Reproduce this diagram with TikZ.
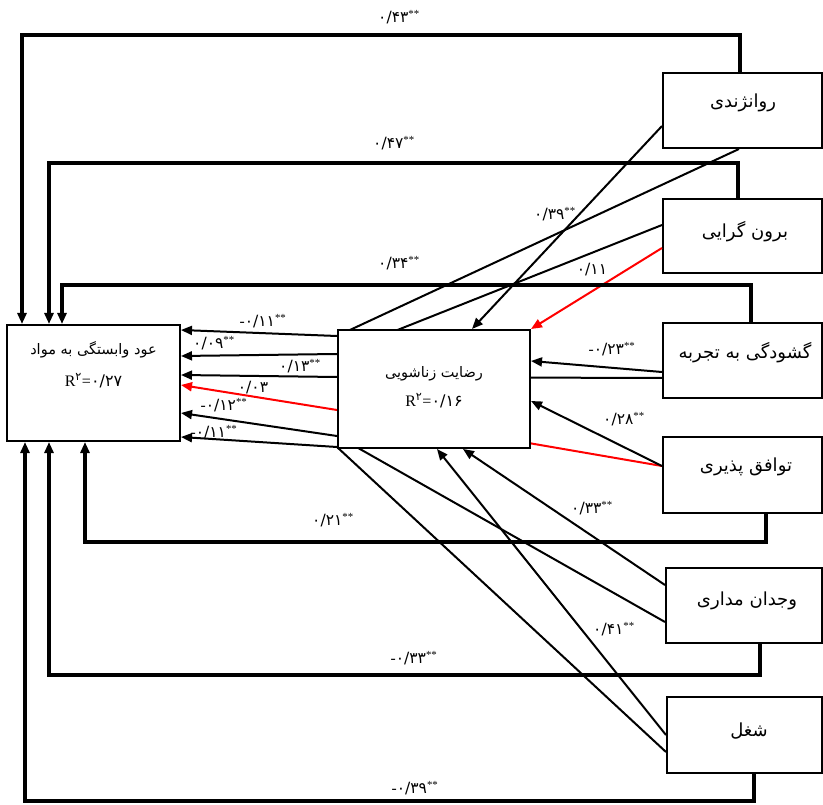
\documentclass[tikz,border=0pt]{standalone}
\usepackage{fontspec}
\setmainfont{Liberation Serif}
\newfontfamily\fa[Script=Arabic]{DejaVu Sans}
\TeXXeTstate=1
\usetikzlibrary{arrows.meta}
\pgfdeclarelayer{bg}
\pgfdeclarelayer{paper}
\pgfsetlayers{paper,bg,main}
\newcommand{\coefs}[1]{{\fa #1}\textsuperscript{**}}
\newcommand{\coefn}[1]{{\fa #1}}
\tikzset{
  box/.style={draw, line width=2pt, fill=white, inner sep=0pt},
  conn/.style={line width=2pt},
  arr/.style={conn, -{Triangle[length=11pt,width=9pt]}},
  redarr/.style={arr, draw=red},
  loopline/.style={line width=3.4pt, -{Triangle[length=11pt,width=9pt]}},
  loopshade/.style={line width=4pt, draw=black!18, xshift=1.5pt, yshift=-2.5pt},
  lbl/.style={font=\fontsize{15.5}{18}\selectfont, inner sep=0pt},
  txt/.style={font=\fontsize{14.5}{17}\selectfont, inner sep=0pt},
  rbtxt/.style={font=\fontsize{18}{21}\selectfont, inner sep=0pt},
  rtxt/.style={font=\fontsize{16}{18}\selectfont, inner sep=0pt}
}
\begin{document}
\begin{tikzpicture}[x=1pt,y=-1pt]
\begin{pgfonlayer}{paper}
\useasboundingbox[fill=white] (0,0) rectangle (823,805);
\end{pgfonlayer}

% boxes
\node[box, minimum width=173pt, minimum height=116pt] (L) at (93.5,383) {};
\node[box, minimum width=192pt, minimum height=118pt] (M) at (434,389) {};
\node[box, minimum width=159pt, minimum height=75pt] (R1) at (742.5,110.5) {};
\node[box, minimum width=159pt, minimum height=74pt] (R2) at (742.5,236) {};
\node[box, minimum width=159pt, minimum height=75pt] (R3) at (742.5,360.5) {};
\node[box, minimum width=159pt, minimum height=76pt] (R4) at (742.5,475) {};
\node[box, minimum width=156pt, minimum height=75pt] (R5) at (744,605.5) {};
\node[box, minimum width=155pt, minimum height=76pt] (R6) at (744.5,735) {};

% box texts
\node[txt] (Lt) at (93.5,350) {\fa\beginR عود وابستگی به مواد\endR};
\node[rtxt] (Lr) at (93.5,381) {R\textsuperscript{\fa ۲}=\coefn{۰/۲۷}};
\node[txt] (Mt) at (434,374) {\fa\beginR رضایت زناشویی\endR};
\node[rtxt] (Mr) at (434,401) {R\textsuperscript{\fa ۲}=\coefn{۰/۱۶}};
\node[rbtxt] (R1t) at (743,103) {\fa\beginR روانژندی\endR};
\node[rbtxt] (R2t) at (745,232) {\fa\beginR برون گرایی\endR};
\node[rbtxt] (R3t) at (745,353) {\fa\beginR گشودگی به تجربه\endR};
\node[rbtxt] (R4t) at (746,467) {\fa\beginR توافق پذیری\endR};
\node[rbtxt] (R5t) at (747,601) {\fa\beginR وجدان مداری\endR};
\node[rbtxt] (R6t) at (749,731) {\fa\beginR شغل\endR};

% loops (coordinates)
\coordinate (t1r) at (740,35);  \coordinate (t1l) at (22,35);
\coordinate (t2r) at (738,163); \coordinate (t2l) at (49,163);
\coordinate (t3r) at (751,285); \coordinate (t3l) at (62,285);
\coordinate (b1r) at (766,542); \coordinate (b1l) at (85,542);
\coordinate (b2r) at (760,675); \coordinate (b2l) at (49,675);
\coordinate (b3r) at (754,801); \coordinate (b3l) at (25,801);

% direct paths (behind the mediator box) and loop shading
\begin{pgfonlayer}{bg}
\draw[loopshade] (t1r) -- (t1l);
\draw[loopshade] (t2r) -- (t2l);
\draw[loopshade] (t3r) -- (t3l);
\draw[loopshade] (b1r) -- (b1l);
\draw[loopshade] (b2r) -- (b2l);
\draw[arr] ([xshift=77pt]R1.south west) -- ([yshift=53pt]M.west) -- ([yshift=53pt]L.east);
\draw[arr] ([yshift=11pt]R2.west) -- ([yshift=35pt]M.west) -- ([yshift=27pt]L.east);
\draw[arr] ([yshift=-17.5pt]R3.west) -- ([yshift=12pt]M.west) -- ([yshift=8pt]L.east);
\draw[redarr] ([yshift=9pt]R4.west) -- ([yshift=-21pt]M.west) -- ([yshift=-2pt]L.east);
\draw[arr] ([yshift=-16.5pt]R5.west) -- ([yshift=-47pt]M.west) -- ([yshift=-30pt]L.east);
\draw[arr] ([yshift=-17pt]R6.west) -- ([yshift=-58pt]M.west) -- ([yshift=-54pt]L.east);
\end{pgfonlayer}

% paths to mediator
\draw[arr] ([yshift=23pt]R1.south west) -- ([xshift=38pt]M.north);
\draw[redarr] ([yshift=-12pt]R2.west) -- (M.north east);
\draw[arr] ([yshift=-11.5pt]R3.west) -- ([yshift=28pt]M.east);
\draw[arr] ([yshift=9pt]R4.west) -- ([yshift=-12pt]M.east);
\draw[arr] ([yshift=20.5pt]R5.west) -- ([xshift=29pt]M.south);
\draw[arr] (R6.west) -- ([xshift=3pt]M.south);

% loops
\draw[loopline] (R1.north -| t1r) -- (t1r) -- (t1l) -- (L.north -| t1l);
\draw[loopline] (R2.north -| t2r) -- (t2r) -- (t2l) -- (L.north -| t2l);
\draw[loopline] (R3.north -| t3r) -- (t3r) -- (t3l) -- (L.north -| t3l);
\draw[loopline] (R4.south -| b1r) -- (b1r) -- (b1l) -- (L.south -| b1l);
\draw[loopline] (R5.south -| b2r) -- (b2r) -- (b2l) -- (L.south -| b2l);
\draw[loopline] (R6.south -| b3r) -- (b3r) -- (b3l) -- (L.south -| b3l);

% labels
\node[lbl] (c1) at (399,17) {\coefs{۰/۴۳}};
\node[lbl] (c2) at (394,143) {\coefs{۰/۴۷}};
\node[lbl] (c3) at (399,263) {\coefs{۰/۳۴}};
\node[lbl] (c4) at (555,214) {\coefs{۰/۳۹}};
\node[lbl] (c5) at (592,270) {\coefn{۰/۱۱}};
\node[lbl] (c6) at (612,349) {-\coefs{۰/۲۳}};
\node[lbl] (c7) at (624,419) {\coefs{۰/۲۸}};
\node[lbl] (c8) at (592,508) {\coefs{۰/۳۳}};
\node[lbl] (c9) at (614,629) {\coefs{۰/۴۱}};
\node[lbl] (c10) at (333,520) {\coefs{۰/۲۱}};
\node[lbl] (c11) at (414,658) {-\coefs{۰/۳۳}};
\node[lbl] (c12) at (415,788) {-\coefs{۰/۳۹}};
\node[lbl] (d1) at (263,321) {-\coefs{۰/۱۱}};
\node[lbl] (d2) at (214,343) {\coefs{۰/۰۹}};
\node[lbl] (d3) at (300,366) {\coefs{۰/۱۳}};
\node[lbl] (d4) at (253,388) {\coefn{۰/۰۳}};
\node[lbl] (d5) at (224,405) {-\coefs{۰/۱۲}};
\node[lbl] (d6) at (214,432) {-\coefs{۰/۱۱}};
\end{tikzpicture}
\end{document}
